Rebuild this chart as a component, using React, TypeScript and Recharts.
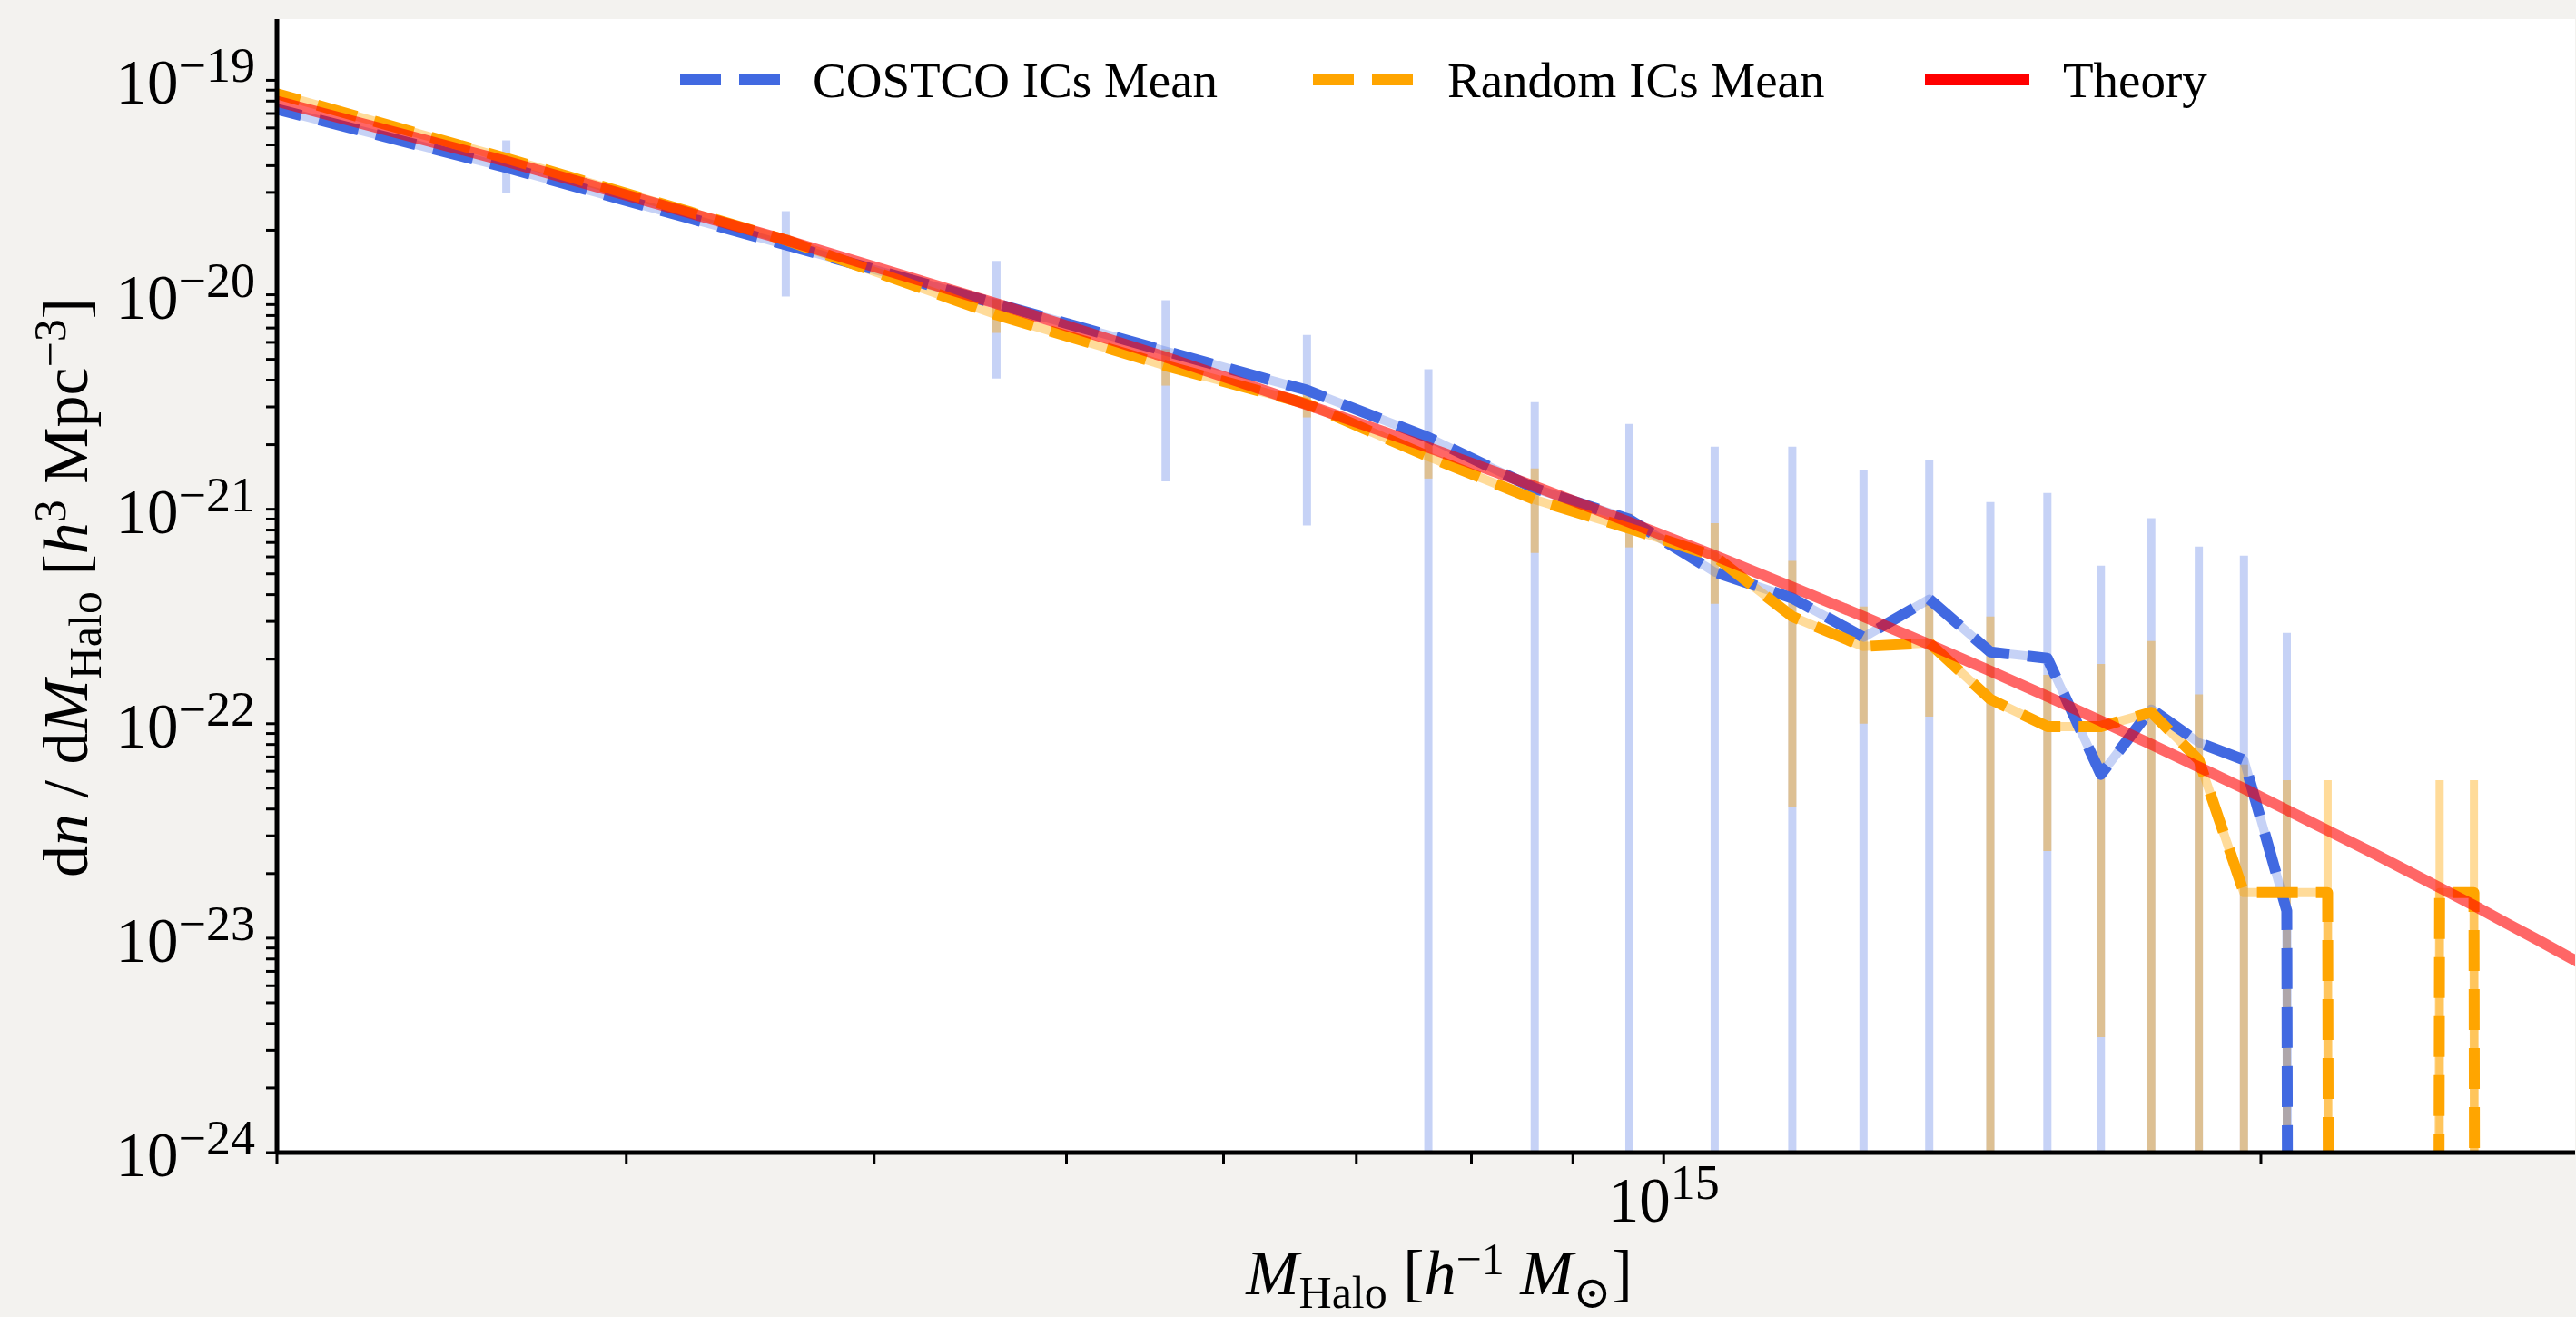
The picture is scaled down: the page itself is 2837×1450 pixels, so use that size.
import React from 'react';
import { ComposedChart, Line, XAxis, YAxis, CartesianGrid, Legend } from 'recharts';

// ---------- data ----------
const massBins = [
  1.61e14, 2.61e14, 3.61e14, 4.61e14, 5.61e14, 6.61e14, 7.61e14, 8.61e14, 9.61e14,
  1.061e15, 1.161e15, 1.261e15, 1.361e15, 1.461e15, 1.561e15, 1.661e15, 1.761e15,
  1.861e15, 1.961e15, 2.061e15, 2.161e15, 2.261e15, 2.361e15, 2.461e15, 2.561e15,
  2.661e15, 2.761e15, 2.861e15,
];

const costcoMean = [
  1.22e-19, 3.92e-20, 1.71e-20, 9.08e-21, 5.46e-21, 3.59e-21, 2.16e-21, 1.25e-21, 8.97e-22,
  5.1e-22, 3.85e-22, 2.53e-22, 3.81e-22, 2.16e-22, 2.02e-22, 5.8e-23, 1.17e-22,
  8.15e-23, 6.78e-23, 1.34e-23, 0, 0, 0, 0, 0,
  0, 0, 0,
];
const costcoUpper = [
  null, 5.25e-20, 2.455e-20, 1.44e-20, 9.44e-21, 6.5e-21, 4.5e-21, 3.16e-21, 2.5e-21,
  1.96e-21, 1.96e-21, 1.53e-21, 1.69e-21, 1.08e-21, 1.19e-21, 5.46e-22, 9.08e-22,
  6.7e-22, 6.08e-22, 2.65e-22, null, null, null, null, null,
  null, null, null,
];
const costcoLower = [
  null, 2.98e-20, 9.8e-21, 4.07e-21, 1.35e-21, 8.4e-22, 0, 0, 0,
  0, 0, 0, 0, 0, 0, 0, 0,
  0, 0, 0, null, null, null, null, null,
  null, null, null,
];

const randomMean = [
  1.52e-19, 4.33e-20, 1.8e-20, 8.07e-21, 4.67e-21, 3.1e-21, 1.76e-21, 1.11e-21, 8.14e-22,
  6.03e-22, 3.16e-22, 2.29e-22, 2.38e-22, 1.3e-22, 9.7e-23, 9.7e-23, 1.13e-22,
  6.78e-23, 1.63e-23, 1.63e-23, 1.63e-23, 0, 0, 1.63e-23, 1.63e-23,
  0, 0, 0,
];
const randomUpper = [
  null, 4.54e-20, 1.905e-20, 9.53e-21, 5.57e-21, 3.52e-21, 2.13e-21, 1.55e-21, 9.53e-22,
  8.6e-22, 5.74e-22, 3.52e-22, 3.63e-22, 3.16e-22, 1.69e-22, 1.9e-22, 2.43e-22,
  1.37e-22, 6.45e-23, 5.45e-23, 5.45e-23, null, null, 5.45e-23, 5.45e-23,
  null, null, null,
];
const randomLower = [
  null, 4.11e-20, 1.69e-20, 6.64e-21, 3.77e-21, 2.68e-21, 1.39e-21, 6.26e-22, 6.64e-22,
  3.62e-22, 4.11e-23, 1.0e-22, 1.08e-22, 0, 2.55e-23, 3.45e-24, 0,
  0, 0, 0, 0, null, null, 0, 0,
  null, null, null,
];

const theoryMass = [...massBins, 2.961e15];
const theoryValue = [
  1.349e-19, 4.19e-20, 1.8e-20, 9.1e-21, 5.12e-21, 3.07e-21, 1.94e-21, 1.28e-21, 8.71e-22,
  6.08e-22, 4.34e-22, 3.16e-22, 2.34e-22, 1.76e-22, 1.34e-22, 1.03e-22, 8.01e-23,
  6.28e-23, 4.99e-23, 3.96e-23, 3.18e-23, 2.58e-23, 2.1e-23, 1.72e-23, 1.42e-23,
  1.17e-23, 9.76e-24, 8.14e-24, 6.86e-24,
];

const X_DOMAIN = [2e14, 2.88e15];
const Y_DOMAIN = [1e-24, 1.93e-19];
const xTicks = [2e14, 3e14, 4e14, 5e14, 6e14, 7e14, 8e14, 9e14, 1e15, 2e15];
const yDecades = [1e-24, 1e-23, 1e-22, 1e-21, 1e-20, 1e-19];
const yTicks = yDecades
  .flatMap((d) => [1, 2, 3, 4, 5, 6, 7, 8, 9].map((k) => k * d))
  .filter((v) => v <= Y_DOMAIN[1]);

const legendItems = [
  { label: 'COSTCO ICs Mean', color: '#4169e1', dashed: true },
  { label: 'Random ICs Mean', color: '#ffa500', dashed: true },
  { label: 'Theory', color: '#ff0000', dashed: false },
];

// ---------- styling ----------
const COSTCO = '#4169e1';
const RANDOM = '#ffa500';
const THEORY = '#ff0000';
const FONT = "'Liberation Serif', 'DejaVu Serif', 'Times New Roman', serif";
const LOG_FLOOR = 1e-100; // stands for zero on the log axis
const DASH = '45 20';

const toPlot = (v: number) => (v > 0 ? v : LOG_FLOOR);

const seriesData = (mean: number[]) => massBins.map((m, i) => ({ m, v: toPlot(mean[i]) }));
const barSegments = (upper: (number | null)[], lower: (number | null)[]) =>
  massBins
    .map((m, i) =>
      upper[i] == null ? null : [{ m, v: toPlot(lower[i] as number) }, { m, v: upper[i] as number }]
    )
    .filter((s) => s !== null) as { m: number; v: number }[][];

const costcoData = seriesData(costcoMean);
const randomData = seriesData(randomMean);
const theoryData = theoryMass.map((m, i) => ({ m, v: theoryValue[i] }));
const costcoBars = barSegments(costcoUpper, costcoLower);
const randomBars = barSegments(randomUpper, randomLower);

const isDecade = (v: number) => {
  const e = Math.log10(v);
  return Math.abs(e - Math.round(e)) < 1e-6;
};

const TICK_FS = 69;
const SUP_FS = 54;
const LABEL_FS = 70;
const SUB_FS = 50;

const YTick = (props: any) => {
  const { y, payload } = props;
  const v = payload.value;
  if (!isDecade(v)) return <g />;
  const e = Math.round(Math.log10(v));
  return (
    <text x={281} y={y + 26} textAnchor="end" fontFamily={FONT} fontSize={TICK_FS} fill="#000">
      10
      <tspan fontSize={SUP_FS} dy={-24}>{'\u2212' + Math.abs(e)}</tspan>
    </text>
  );
};

const XTick = (props: any) => {
  const { x, payload } = props;
  const v = payload.value;
  if (!isDecade(v)) return <g />;
  const e = Math.round(Math.log10(v));
  return (
    <text x={x} y={1345} textAnchor="middle" fontFamily={FONT} fontSize={TICK_FS} fill="#000">
      10
      <tspan fontSize={SUP_FS} dy={-25}>{String(e)}</tspan>
    </text>
  );
};

const YLabel = () => (
  <text
    x={96}
    y={647}
    transform="rotate(-90 96 647)"
    textAnchor="middle"
    fontFamily={FONT}
    fontSize={LABEL_FS}
    fill="#000"
  >
    <tspan>d</tspan>
    <tspan fontStyle="italic">n</tspan>
    <tspan>{' / d'}</tspan>
    <tspan fontStyle="italic">M</tspan>
    <tspan fontSize={SUB_FS} dy={15}>Halo</tspan>
    <tspan dy={-15}>{' ['}</tspan>
    <tspan fontStyle="italic">h</tspan>
    <tspan fontSize={SUB_FS} dy={-24}>3</tspan>
    <tspan dy={24}>{' Mpc'}</tspan>
    <tspan fontSize={SUB_FS} dy={-24}>{'\u22123'}</tspan>
    <tspan dy={24}>]</tspan>
  </text>
);

const XLabel = () => (
  <text x={1585} y={1425} textAnchor="middle" fontFamily={FONT} fontSize={LABEL_FS} fill="#000">
    <tspan fontStyle="italic">M</tspan>
    <tspan fontSize={SUB_FS} dy={15}>Halo</tspan>
    <tspan dy={-15}>{' ['}</tspan>
    <tspan fontStyle="italic">h</tspan>
    <tspan fontSize={SUB_FS} dy={-22}>{'\u22121'}</tspan>
    <tspan dy={22}>{' '}</tspan>
    <tspan fontStyle="italic">M</tspan>
    <tspan fontSize={SUB_FS} dy={15}>{'\u2299'}</tspan>
    <tspan dy={-15}>]</tspan>
  </text>
);

const handleX = [749, 1446, 2120];
const textX = [895, 1594, 2272];

const LegendContent = () => (
  <svg width={2837} height={150} style={{ display: 'block' }}>
    {legendItems.map((it, i) => (
      <g key={it.label}>
        <line
          x1={handleX[i]}
          x2={handleX[i] + 115}
          y1={88}
          y2={88}
          stroke={it.color}
          strokeWidth={12}
          strokeDasharray={it.dashed ? DASH : undefined}
        />
        <text x={textX[i]} y={107} fontFamily={FONT} fontSize={55} fill="#000">
          {it.label}
        </text>
      </g>
    ))}
  </svg>
);

const common = {
  dataKey: 'v',
  dot: false,
  activeDot: false,
  isAnimationActive: false,
  legendType: 'none' as const,
  type: 'linear' as const,
  strokeLinejoin: 'round' as const,
  strokeLinecap: 'butt' as const,
};

export default function App() {
  return (
    <div
      style={{
        position: 'fixed',
        left: 0,
        top: 0,
        width: 2837,
        height: 1450,
        background: '#f3f2ef',
      }}
    >
      <ComposedChart width={2837} height={1450} margin={{ top: 21, right: 1, bottom: 0, left: 0 }}>
        <CartesianGrid fill="#ffffff" horizontal={false} vertical={false} stroke="none" />
        <XAxis
          dataKey="m"
          type="number"
          scale="log"
          domain={X_DOMAIN}
          allowDataOverflow
          ticks={xTicks}
          interval={0}
          height={181}
          tick={<XTick />}
          tickSize={12}
          tickLine={{ stroke: '#000', strokeWidth: 3 }}
          axisLine={{ stroke: '#000', strokeWidth: 5 }}
          label={<XLabel />}
        />
        <XAxis
          xAxisId="top"
          orientation="top"
          dataKey="m"
          type="number"
          scale="log"
          domain={X_DOMAIN}
          allowDataOverflow
          height={0}
          tick={false}
          tickLine={false}
          axisLine={{ stroke: '#000', strokeWidth: 5 }}
        />
        <YAxis
          type="number"
          scale="log"
          domain={Y_DOMAIN}
          allowDataOverflow
          ticks={yTicks}
          interval={0}
          width={305}
          tick={<YTick />}
          tickSize={12}
          tickLine={{ stroke: '#000', strokeWidth: 3 }}
          axisLine={{ stroke: '#000', strokeWidth: 5 }}
          label={<YLabel />}
        />
        {costcoBars.map((seg, i) => (
          <Line key={'cb' + i} {...common} data={seg} stroke={COSTCO} strokeOpacity={0.3} strokeWidth={9} />
        ))}
        {randomBars.map((seg, i) => (
          <Line key={'rb' + i} {...common} data={seg} stroke={RANDOM} strokeOpacity={0.4} strokeWidth={9} />
        ))}
        <Line {...common} data={costcoData} stroke={COSTCO} strokeOpacity={0.3} strokeWidth={10} />
        <Line {...common} data={randomData} stroke={RANDOM} strokeOpacity={0.4} strokeWidth={10} />
        <Line {...common} data={costcoData} stroke={COSTCO} strokeWidth={12} strokeDasharray={DASH} name="COSTCO ICs Mean" />
        <Line {...common} data={randomData} stroke={RANDOM} strokeWidth={12} strokeDasharray={DASH} name="Random ICs Mean" />
        <Line {...common} data={theoryData} stroke={THEORY} strokeOpacity={0.6} strokeWidth={12} name="Theory" />
        <Legend
          content={<LegendContent />}
          layout="horizontal"
          verticalAlign="middle"
          wrapperStyle={{ top: 0, left: 0, width: 2837, height: 150 }}
        />
      </ComposedChart>
    </div>
  );
}
